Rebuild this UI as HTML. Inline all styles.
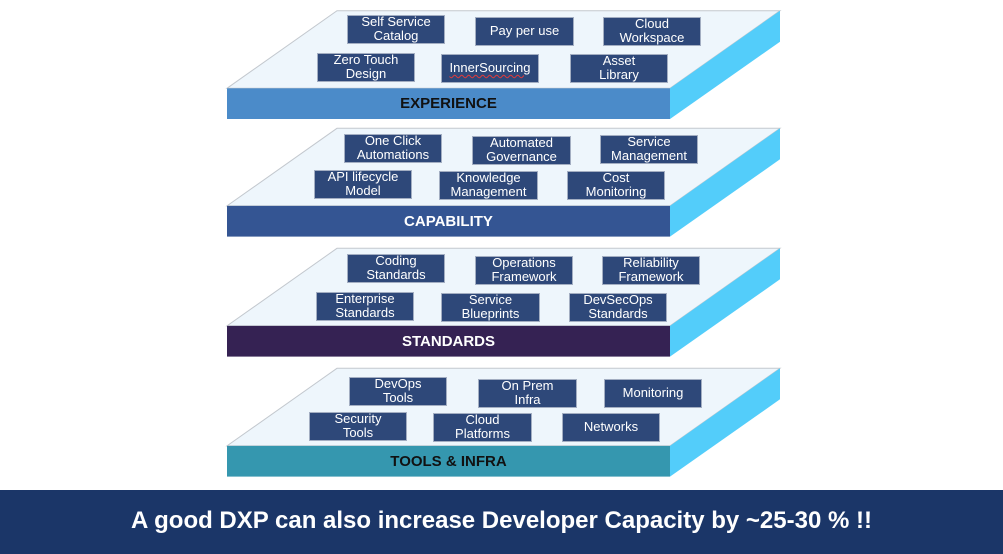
<!DOCTYPE html>
<html>
<head>
<meta charset="utf-8">
<style>
  html,body{margin:0;padding:0;}
  body{width:1003px;height:554px;position:relative;background:#ffffff;overflow:hidden;font-family:"Liberation Sans",Arial,sans-serif;}
  svg.bg{position:absolute;left:0;top:0;}
  .b{position:absolute;width:98px;height:29px;background:#2E4879;border:1px solid #A3AEC2;box-sizing:border-box;color:#fff;font-size:13px;line-height:14.5px;display:flex;align-items:center;justify-content:center;text-align:center;padding-bottom:1px;}
  .lbl{position:absolute;left:227px;width:443px;height:31px;font-weight:bold;font-size:15px;line-height:31px;text-align:center;}
  .footer{position:absolute;left:0;top:490px;width:1003px;height:64px;background:#1B3668;}
  .ftxt{position:absolute;left:0;top:509px;width:1003px;text-align:center;color:#fff;font-weight:bold;font-size:24px;line-height:24px;}
  .sp{text-decoration:underline wavy #e23a3a;text-decoration-thickness:1px;text-underline-offset:2px;}
</style>
</head>
<body>
<svg class="bg" width="1003" height="554" viewBox="0 0 1003 554">
  <g transform="translate(0,0)">
    <polygon points="337,10.7 780,10.7 670,88.3 227,88.3" fill="#EEF6FC" stroke="#C3C8CE" stroke-width="1"/>
    <polygon points="670,88.3 780,10.7 780,41.7 670,119" fill="#53CDFA"/>
    <rect x="227" y="88.3" width="443" height="30.7" fill="#4B8BC9"/>
  </g>
  <g transform="translate(0,117.6)">
    <polygon points="337,10.7 780,10.7 670,88.3 227,88.3" fill="#EEF6FC" stroke="#C3C8CE" stroke-width="1"/>
    <polygon points="670,88.3 780,10.7 780,41.7 670,119" fill="#53CDFA"/>
    <rect x="227" y="88.3" width="443" height="30.7" fill="#345593"/>
  </g>
  <g transform="translate(0,237.6)">
    <polygon points="337,10.7 780,10.7 670,88.3 227,88.3" fill="#EEF6FC" stroke="#C3C8CE" stroke-width="1"/>
    <polygon points="670,88.3 780,10.7 780,41.7 670,119" fill="#53CDFA"/>
    <rect x="227" y="88.3" width="443" height="30.7" fill="#352253"/>
  </g>
  <g transform="translate(0,357.6)">
    <polygon points="337,10.7 780,10.7 670,88.3 227,88.3" fill="#EEF6FC" stroke="#C3C8CE" stroke-width="1"/>
    <polygon points="670,88.3 780,10.7 780,41.7 670,119" fill="#53CDFA"/>
    <rect x="227" y="88.3" width="443" height="30.7" fill="#3597AF"/>
  </g>
</svg>

<div class="b" style="left:347px;top:15px;">Self Service<br>Catalog</div>
<div class="b" style="left:475px;top:17px;width:99px;">Pay per use</div>
<div class="b" style="left:603px;top:17px;">Cloud<br>Workspace</div>
<div class="b" style="left:317px;top:53px;">Zero Touch<br>Design</div>
<div class="b" style="left:441px;top:54px;"><span class="sp">InnerSourcing</span></div>
<div class="b" style="left:570px;top:54px;">Asset<br>Library</div>
<div class="lbl" style="top:88px;color:#111;">EXPERIENCE</div>

<div class="b" style="left:344px;top:134px;">One Click<br>Automations</div>
<div class="b" style="left:472px;top:136px;width:99px;">Automated<br>Governance</div>
<div class="b" style="left:600px;top:135px;">Service<br>Management</div>
<div class="b" style="left:314px;top:170px;">API lifecycle<br>Model</div>
<div class="b" style="left:439px;top:171px;width:99px;">Knowledge<br>Management</div>
<div class="b" style="left:567px;top:171px;">Cost<br>Monitoring</div>
<div class="lbl" style="top:206px;color:#fff;">CAPABILITY</div>

<div class="b" style="left:347px;top:254px;">Coding<br>Standards</div>
<div class="b" style="left:475px;top:256px;">Operations<br>Framework</div>
<div class="b" style="left:602px;top:256px;">Reliability<br>Framework</div>
<div class="b" style="left:316px;top:292px;">Enterprise<br>Standards</div>
<div class="b" style="left:441px;top:293px;width:99px;">Service<br>Blueprints</div>
<div class="b" style="left:569px;top:293px;">DevSecOps<br>Standards</div>
<div class="lbl" style="top:326px;color:#fff;">STANDARDS</div>

<div class="b" style="left:349px;top:377px;">DevOps<br>Tools</div>
<div class="b" style="left:478px;top:379px;width:99px;">On Prem<br>Infra</div>
<div class="b" style="left:604px;top:379px;">Monitoring</div>
<div class="b" style="left:309px;top:412px;">Security<br>Tools</div>
<div class="b" style="left:433px;top:413px;width:99px;">Cloud<br>Platforms</div>
<div class="b" style="left:562px;top:413px;">Networks</div>
<div class="lbl" style="top:446px;color:#111;">TOOLS &amp; INFRA</div>

<div class="footer"></div>
<div class="ftxt">A good DXP can also increase Developer Capacity by ~25-30 % !!</div>
</body>
</html>
